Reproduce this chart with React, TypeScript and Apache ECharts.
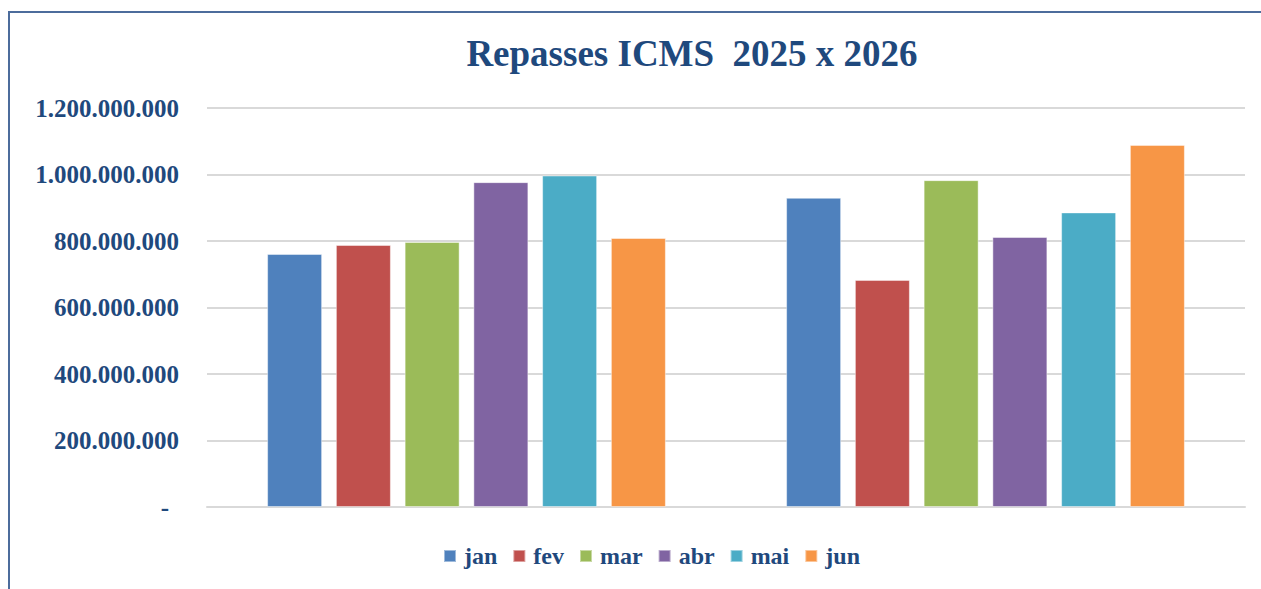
import React, { useEffect, useRef } from "react";
import * as echarts from "echarts";

const categories = ["2025", "2026"];
const months = ["jan", "fev", "mar", "abr", "mai", "jun"];
const values: number[][] = [
  [761000000, 930000000],
  [788000000, 683000000],
  [797000000, 983000000],
  [977000000, 812000000],
  [997000000, 886000000],
  [809000000, 1089000000],
];
const colors = ["#4F81BD", "#C0504D", "#9BBB59", "#8064A2", "#4BACC6", "#F79646"];
const yTicks = { min: 0, max: 1200000000, interval: 200000000 };

const TEXT = "#1F497D";
const FONT = "'Liberation Serif', serif";

function fmt(v: number): string {
  if (v === 0) return "{z|-}";
  return String(Math.round(v)).replace(/\B(?=(\d{3})+(?!\d))/g, ".");
}

export default function App() {
  const ref = useRef<HTMLDivElement>(null);
  useEffect(() => {
    if (!ref.current) return;
    const chart = echarts.init(ref.current, null, { renderer: "svg" });
    chart.setOption({
      animation: false,
      backgroundColor: "#ffffff",
      title: {
        text: "Repasses ICMS  2025 x 2026",
        left: 692,
        top: 35,
        textAlign: "center",
        padding: 0,
        textStyle: { fontFamily: FONT, fontWeight: "bold", fontSize: 37, color: TEXT },
      },
      graphic: [
        {
          type: "rect",
          shape: { x: 9, y: 12, width: 1400, height: 700 },
          style: { fill: "none", stroke: "#4c6c9c", lineWidth: 2 },
          silent: true,
        },
      ],
      legend: {
        left: 443,
        top: 544,
        padding: 0,
        itemWidth: 12,
        itemHeight: 12,
        itemGap: 15,
        icon: "rect",
        textStyle: { fontFamily: FONT, fontWeight: "bold", fontSize: 24, color: TEXT, padding: [0, 0, 0, 3] },
        data: months,
      },
      grid: { left: 207, right: 16, top: 108, bottom: 82, containLabel: false },
      xAxis: {
        type: "category",
        data: categories,
        axisLabel: { show: false },
        axisTick: { show: false },
        axisLine: { show: true, lineStyle: { color: "#d9d9d9", width: 2 } },
      },
      yAxis: {
        type: "value",
        min: yTicks.min,
        max: yTicks.max,
        interval: yTicks.interval,
        axisLine: { show: false },
        axisTick: { show: false },
        splitLine: { lineStyle: { color: "#d9d9d9", width: 2 } },
        axisLabel: {
          margin: 28,
          formatter: fmt,
          fontFamily: FONT,
          fontWeight: "bold",
          fontSize: 25,
          color: TEXT,
          rich: { z: { fontFamily: FONT, fontWeight: "bold", fontSize: 25, color: TEXT, padding: [0, 10, 0, 0] } },
        },
      },
      series: months.map((m, i) => ({
        name: m,
        type: "bar",
        data: values[i],
        barWidth: 55,
        barGap: "25%",
        itemStyle: { color: colors[i], borderColor: "rgba(255,255,255,0.45)", borderWidth: 1 },
      })),
    });
    return () => chart.dispose();
  }, []);
  return (
    <div
      ref={ref}
      style={{ position: "absolute", left: 0, top: 0, width: 1261, height: 589 }}
    />
  );
}
